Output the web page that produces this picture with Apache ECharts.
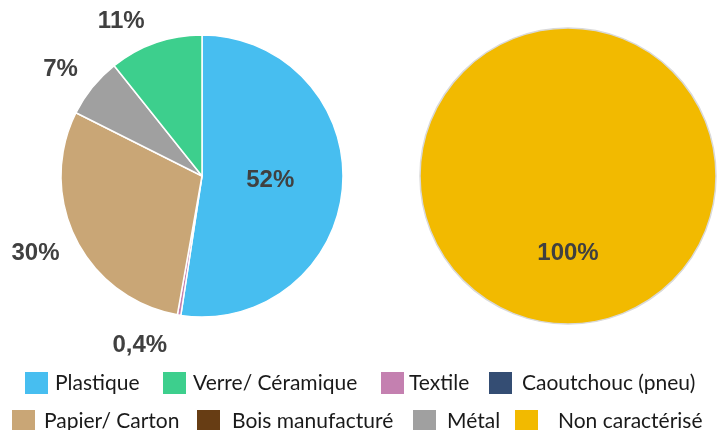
<!DOCTYPE html>
<html><head><meta charset="utf-8">
<script src="https://cdn.jsdelivr.net/npm/echarts@6/dist/echarts.min.js"></script>
<style>html,body{margin:0;padding:0;background:#fff}#c{width:718px;height:430px}</style>
</head><body><div id="c"></div>
<script>
const categories = ['Plastique','Textile','Papier/ Carton','Métal','Verre/ Céramique','Caoutchouc (pneu)','Bois manufacturé'];
const values = [52.4, 0.4, 29.6, 6.9, 10.7, 0, 0];
const colors = ['#47BEF0','#C480B0','#C9A676','#A0A0A0','#3DCF8D','#344D73','#673D14'];
const rightCategories = ['Non caractérisé'];
const rightValues = [100];
const rightColors = ['#F2BA00'];
const legendRow1 = ['Plastique','Verre/ Céramique','Textile','Caoutchouc (pneu)'];
const legendRow2 = ['Papier/ Carton','Bois manufacturé','Métal','Non caractérisé'];

const fmt = p => (p.value < 1 ? String(p.value).replace('.', ',') : String(Math.round(p.value))) + '%';
const labelStyle = {fontFamily:'Liberation Sans, Arial', fontWeight:'bold', fontSize:24, color:'#404040', overflow:'none'};
const labelShift = [[-5,-1],[-3,7],[10,3],[9,-3],[2,1],[0,0],[0,0]];

const leftData = categories.map((n,i)=>({
  name:n, value:values[i],
  itemStyle:{color:colors[i], borderWidth: values[i]>0?1.5:0},
  label:{show: values[i]>0, position: i===0?'inside':'outside', offset: labelShift[i]}
}));
const rightData = rightCategories.map((n,i)=>({name:n, value:rightValues[i], itemStyle:{color:rightColors[i]}}));

const legendPos = {
  'Plastique':[25,372,7], 'Verre/ Céramique':[163,372,7], 'Textile':[381,372,5], 'Caoutchouc (pneu)':[489,372,10],
  'Papier/ Carton':[12,410,9], 'Bois manufacturé':[197,410,12], 'Métal':[413,410,11], 'Non caractérisé':[515,410,20]
};
const legends = legendRow1.concat(legendRow2).map(n=>({
  data:[n], left:legendPos[n][0], top:legendPos[n][1], padding:0,
  itemWidth:23, itemHeight:22, icon:'rect', selectedMode:false,
  itemStyle:{borderWidth:0},
  textStyle:{fontFamily:'Lato', fontSize:21, color:'#1a1a1a', padding:[0,0,0,legendPos[n][2]-5]}
}));

const chart = echarts.init(document.getElementById('c'), null, {renderer:'canvas'});
chart.setOption({
  animation:false,
  legend: legends,
  series:[
    {type:'pie', center:[202,176], radius:141, startAngle:90, clockwise:true,
     data:leftData, itemStyle:{borderColor:'#fff'},
     label:Object.assign({formatter:fmt}, labelStyle),
     labelLine:{show:false, length:24, length2:0},
     emphasis:{disabled:true}},
    {type:'pie', center:[568,176], radius:148, startAngle:90,
     data:rightData, itemStyle:{borderColor:'#D9D9D9', borderWidth:1.5},
     label:Object.assign({position:'inside', formatter:fmt}, labelStyle),
     labelLine:{show:false},
     emphasis:{disabled:true}}
  ]
});
</script></body></html>
